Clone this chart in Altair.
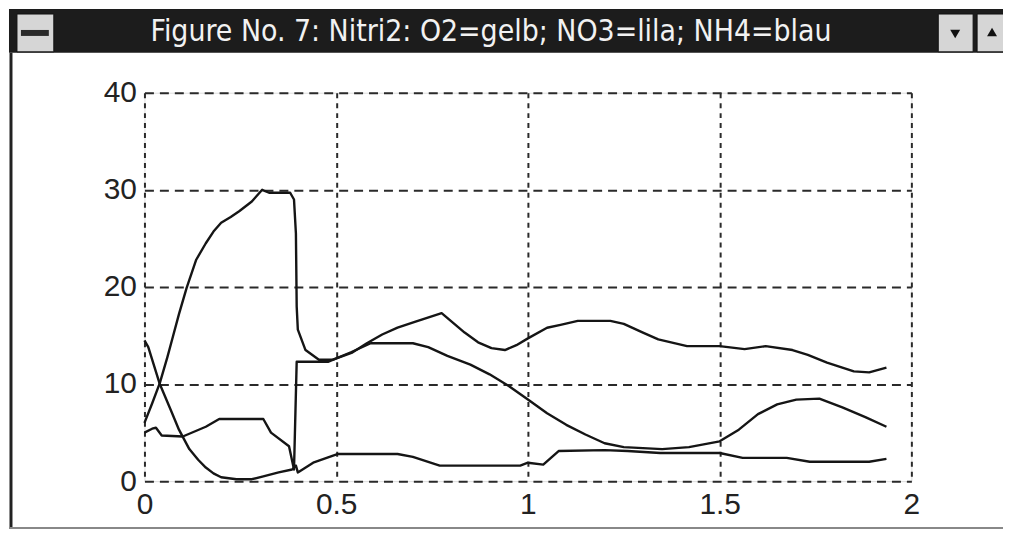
import altair as alt
import pandas as pd

# ---- data ----
x_a = [0, 0.02, 0.04, 0.06, 0.075, 0.09, 0.11, 0.135, 0.16, 0.18, 0.2, 0.225, 0.247, 0.28, 0.307, 0.325,
       0.38, 0.39, 0.395, 0.397, 0.40, 0.42, 0.455, 0.49, 0.54, 0.58, 0.62, 0.66, 0.705, 0.775, 0.835,
       0.87, 0.905, 0.94, 0.97, 1.0, 1.05, 1.085, 1.13, 1.215, 1.25, 1.3, 1.34, 1.415, 1.5, 1.565,
       1.62, 1.69, 1.73, 1.78, 1.82, 1.85, 1.89, 1.935]
y_a = [6.0, 8.0, 10.1, 12.8, 15.0, 17.2, 19.9, 22.8, 24.5, 25.7, 26.6, 27.2, 27.8, 28.8, 30.0, 29.7,
       29.7, 29.0, 25.5, 18.0, 15.6, 13.5, 12.5, 12.5, 13.2, 14.2, 15.1, 15.8, 16.4, 17.3, 15.3,
       14.3, 13.7, 13.5, 14.0, 14.7, 15.8, 16.1, 16.5, 16.5, 16.2, 15.3, 14.6, 13.9, 13.9, 13.6,
       13.9, 13.5, 13.0, 12.2, 11.7, 11.3, 11.2, 11.7]

x_b = [0, 0.01, 0.04, 0.07, 0.09, 0.117, 0.14, 0.16, 0.18, 0.2, 0.24, 0.28, 0.31, 0.35, 0.385, 0.395,
       0.40, 0.44, 0.49, 0.505, 0.66, 0.70, 0.77, 0.98, 1.0, 1.04, 1.06, 1.08, 1.2, 1.26, 1.345, 1.5,
       1.56, 1.675, 1.735, 1.89, 1.935]
y_b = [14.5, 13.8, 10.0, 7.2, 5.3, 3.3, 2.2, 1.4, 0.8, 0.4, 0.2, 0.2, 0.5, 0.9, 1.2, 1.6,
       0.9, 1.9, 2.6, 2.8, 2.8, 2.5, 1.6, 1.6, 1.9, 1.7, 2.4, 3.1, 3.2, 3.1, 2.9, 2.9,
       2.4, 2.4, 2.0, 2.0, 2.3]

x_c = [0, 0.02, 0.03, 0.045, 0.1, 0.16, 0.195, 0.31, 0.33, 0.377, 0.39, 0.397, 0.40, 0.48, 0.54,
       0.59, 0.70, 0.74, 0.79, 0.85, 0.90, 0.95, 1.0, 1.05, 1.10, 1.15, 1.20, 1.25, 1.35, 1.42, 1.5,
       1.55, 1.60, 1.65, 1.70, 1.76, 1.82, 1.88, 1.935]
y_c = [5.0, 5.4, 5.5, 4.7, 4.6, 5.6, 6.4, 6.4, 5.0, 3.6, 1.2, 12.3, 12.3, 12.3, 13.3,
       14.2, 14.2, 13.8, 12.9, 12.0, 11.0, 9.8, 8.4, 7.0, 5.8, 4.8, 3.9, 3.5, 3.3, 3.5, 4.1,
       5.3, 6.9, 7.9, 8.4, 8.5, 7.6, 6.6, 5.6]

x_ticks = [0, 0.5, 1, 1.5, 2]
y_ticks = [0, 10, 20, 30, 40]
title_text = "Figure No. 7: Nitri2: O2=gelb; NO3=lila; NH4=blau"

rows = []
for name, xs, ys in [("O2", x_a, y_a), ("NH4", x_b, y_b), ("NO3", x_c, y_c)]:
    for i, (xv, yv) in enumerate(zip(xs, ys)):
        rows.append({"series": name, "i": i, "x": xv, "y": yv})
df = pd.DataFrame(rows)

W, H = 770, 390

lines = alt.Chart(df).mark_line(strokeWidth=2.4, color="#151515", strokeJoin="round").encode(
    x=alt.X("x:Q", scale=alt.Scale(domain=[0, 2], nice=False),
            axis=alt.Axis(values=x_ticks, format="~g", title=None, grid=True,
                          gridDash=[5, 5], gridColor="#2a2a2a", gridWidth=2, gridOpacity=1,
                          domain=False, ticks=False, labelFontSize=30, labelColor="#222222",
                          labelFont="Liberation Sans", labelPadding=8, labelFlush=False,
                          labelOverlap=False)),
    y=alt.Y("y:Q", scale=alt.Scale(domain=[0, 40], nice=False),
            axis=alt.Axis(values=y_ticks, title=None, grid=True,
                          gridDash=[9, 6], gridColor="#2a2a2a", gridWidth=2, gridOpacity=1,
                          domain=False, ticks=False, labelFontSize=30, labelColor="#222222",
                          labelFont="Liberation Sans", labelPadding=8, labelFlush=False,
                          labelOverlap=False)),
    detail="series:N",
    order="i:Q",
)

one = pd.DataFrame({"k": [0]})
base = alt.Chart(one)

# window decoration (title bar, buttons, frame)
bar = base.mark_rect(color="#1c1c1c").encode(
    x=alt.value(-136), x2=alt.value(862), y=alt.value(-84), y2=alt.value(-40))
btn_min = base.mark_rect(color="#d6d6d6", stroke="#111111", strokeWidth=1).encode(
    x=alt.value(-128), x2=alt.value(-91), y=alt.value(-79), y2=alt.value(-41))
btn_min_bar = base.mark_rect(color="#2a2a2a").encode(
    x=alt.value(-124), x2=alt.value(-96), y=alt.value(-63), y2=alt.value(-57))
btn_down = base.mark_rect(color="#d6d6d6", stroke="#111111", strokeWidth=1).encode(
    x=alt.value(797), x2=alt.value(832), y=alt.value(-79), y2=alt.value(-41))
btn_up = base.mark_rect(color="#d6d6d6", stroke="#111111", strokeWidth=1).encode(
    x=alt.value(836), x2=alt.value(866), y=alt.value(-79), y2=alt.value(-41))
tri_down = base.mark_point(shape="triangle-down", filled=True, color="#111111", size=100, opacity=1).encode(
    x=alt.value(814), y=alt.value(-59))
tri_up = base.mark_point(shape="triangle-up", filled=True, color="#111111", size=100, opacity=1).encode(
    x=alt.value(851), y=alt.value(-61))
title = base.mark_text(text=title_text, color="#f2f2f2", fontSize=30,
                       font="Liberation Sans Narrow, DejaVu Sans Condensed, Roboto Condensed, sans-serif",
                       align="center", baseline="middle").encode(
    x=alt.value(348), y=alt.value(-61))
left_frame = base.mark_rule(color="#222222", strokeWidth=3).encode(
    x=alt.value(-134), y=alt.value(-40), y2=alt.value(438))
bottom_frame = base.mark_rule(color="#888888", strokeWidth=2).encode(
    x=alt.value(-136), x2=alt.value(862), y=alt.value(437))

chart = alt.layer(
    lines, bar, btn_min, btn_min_bar, btn_down, btn_up, tri_down, tri_up, title,
    left_frame, bottom_frame
).properties(
    width=W, height=H,
    padding={"left": 137, "top": 84, "right": 92, "bottom": 48},
    autosize=alt.AutoSizeParams(type="none"),
).configure_view(
    stroke="#111111", strokeWidth=2.5
).configure(background="white")

chart.save("out.html", embed_options={"renderer": "svg", "actions": False})
